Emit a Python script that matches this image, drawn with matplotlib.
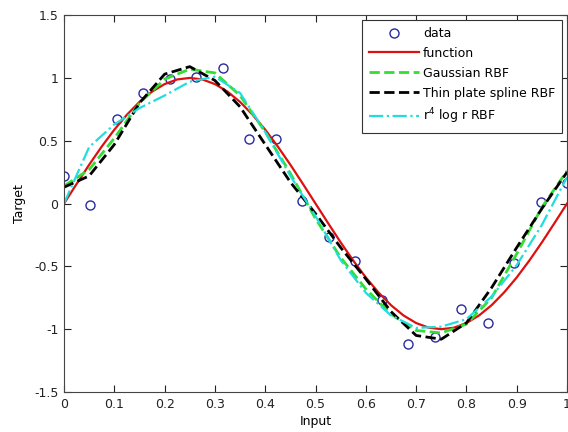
import matplotlib
matplotlib.use('Agg')
import matplotlib.pyplot as plt

plt.rcParams['font.family'] = ['DejaVu Sans']

# noisy samples
data_x = [0.0, 0.0526, 0.1053, 0.1579, 0.2105, 0.2632, 0.3158, 0.3684, 0.4211, 0.4737,
          0.5263, 0.5789, 0.6316, 0.6842, 0.7368, 0.7895, 0.8421, 0.8947, 0.9474, 1.0]
data_y = [0.22, -0.01, 0.67, 0.88, 0.99, 1.01, 1.08, 0.51, 0.51, 0.02,
          -0.27, -0.46, -0.77, -1.12, -1.06, -0.84, -0.95, -0.47, 0.01, 0.16]

# true function
fx = [i * 0.025 for i in range(41)]
fy = [0.0, 0.156, 0.309, 0.454, 0.588, 0.707, 0.809, 0.891, 0.951, 0.988,
      1.0, 0.988, 0.951, 0.891, 0.809, 0.707, 0.588, 0.454, 0.309, 0.156,
      0.0, -0.156, -0.309, -0.454, -0.588, -0.707, -0.809, -0.891, -0.951, -0.988,
      -1.0, -0.988, -0.951, -0.891, -0.809, -0.707, -0.588, -0.454, -0.309, -0.156, 0.0]

# fitted curves
cx = [i * 0.05 for i in range(21)]
gauss = [0.14, 0.27, 0.52, 0.80, 0.99, 1.07, 1.04, 0.86, 0.57, 0.24, -0.12,
         -0.43, -0.68, -0.88, -1.01, -1.03, -0.96, -0.75, -0.40, -0.03, 0.26]
tps = [0.13, 0.22, 0.47, 0.80, 1.03, 1.09, 0.98, 0.77, 0.47, 0.17, -0.08,
       -0.35, -0.60, -0.86, -1.05, -1.08, -0.95, -0.67, -0.35, -0.04, 0.25]
r4log = [0.0, 0.45, 0.63, 0.76, 0.86, 0.97, 1.01, 0.88, 0.57, 0.22, -0.10,
         -0.45, -0.71, -0.89, -0.99, -0.98, -0.92, -0.74, -0.49, -0.17, 0.21]

fig = plt.figure(figsize=(5.68, 4.32), dpi=100)
ax = fig.add_axes([0.1127, 0.0926, 0.8856, 0.8724])

ax.plot(data_x, data_y, 'o', mfc='none', mec='#2a2aa0', ms=6.5, mew=1.0, label='data')
ax.plot(fx, fy, '-', color='#dd1010', lw=1.6, label='function')
ax.plot(cx, gauss, '--', color='#33dd33', lw=2.0, label='Gaussian RBF')
ax.plot(cx, tps, '--', color='black', lw=2.0, label='Thin plate spline RBF')
ax.plot(cx, r4log, '-.', color='#22dddd', lw=1.6, label=r'r$^4$ log r RBF')

ax.set_xlim(0, 1)
ax.set_ylim(-1.5, 1.5)
ax.set_xticks([0, 0.1, 0.2, 0.3, 0.4, 0.5, 0.6, 0.7, 0.8, 0.9, 1])
ax.set_xticklabels(['0', '0.1', '0.2', '0.3', '0.4', '0.5', '0.6', '0.7', '0.8', '0.9', '1'])
ax.set_yticks([-1.5, -1, -0.5, 0, 0.5, 1, 1.5])
ax.set_yticklabels(['-1.5', '-1', '-0.5', '0', '0.5', '1', '1.5'])
ax.tick_params(direction='in', top=True, right=True, length=5, labelsize=9,
               colors='#222222', pad=4)
for s in ax.spines.values():
    s.set_color('#444444')
ax.set_xlabel('Input', fontsize=9, labelpad=3)
ax.set_ylabel('Target', fontsize=9, labelpad=6)

leg = ax.legend(loc='upper right', fontsize=9, handlelength=4.0, handletextpad=0.3,
                borderpad=0.55, labelspacing=0.55, fancybox=False, framealpha=1,
                borderaxespad=0.4)
leg.get_frame().set_edgecolor('#333333')
leg.get_frame().set_linewidth(0.8)

fig.savefig('out.png', dpi=100)
